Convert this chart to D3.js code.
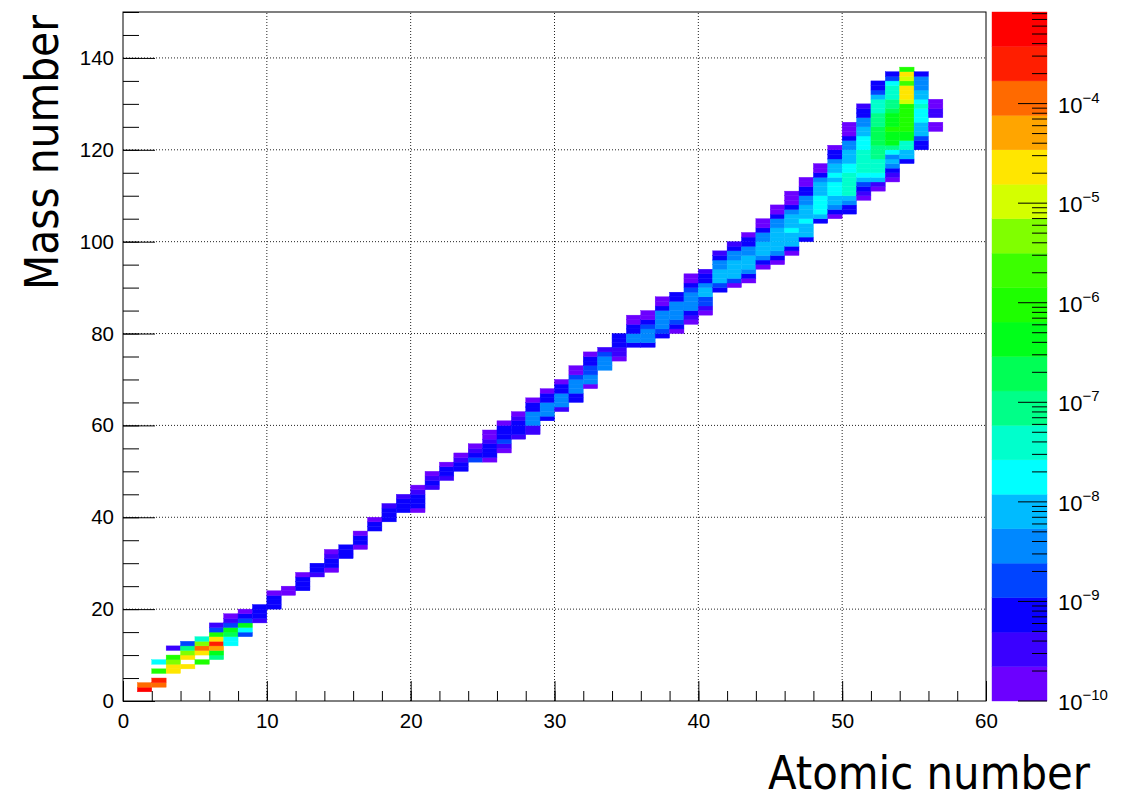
<!DOCTYPE html>
<html>
<head>
<meta charset="utf-8">
<script src="https://cdn.jsdelivr.net/npm/d3@7"></script>
<style>
body { margin: 0; background: #fff; }
</style>
</head>
<body>
<div id="chart-area"></div>
<script>
/* Atomic number of each histogram column */
var zValues = [1, 2, 3, 4, 5, 6, 7, 8, 9, 10, 11, 12, 13, 14, 15, 16, 17, 18, 19, 20,
    21, 22, 23, 24, 25, 26, 27, 28, 29, 30, 31, 32, 33, 34, 35, 36, 37, 38, 39, 40,
    41, 42, 43, 44, 45, 46, 47, 48, 49, 50, 51, 52, 53, 54, 55, 56];

/* First mass number filled in each column */
var aStart = [2, 3, 6, 7, 8, 9, 12, 14, 17, 20, 23, 24, 27, 28, 31, 33, 37, 39, 41, 41,
    46, 48, 50, 52, 52, 54, 57, 58, 61, 63, 65, 68, 72, 74, 77, 77, 79, 80, 82, 84,
    89, 90, 91, 94, 95, 97, 100, 104, 105, 106, 109, 111, 113, 117, 120, 124];

/* log10 of the bin content, going up in mass number from aStart (null = empty bin) */
var logContent = [
    [-3.3, -3.9],
    [-3.9, -3.6, null, -6.0, null, -7.7],
    [-4.6, -4.6, -5.3, -6.0, null, -9.5],
    [-4.6, null, -4.6, -5.3, -7.1, -8.8],
    [-6.0, null, -4.6, -3.9, -5.3, -7.4],
    [-7.1, -6.4, -4.3, -3.6, -4.6, -6.0, -8.8, -9.5],
    [-7.7, -7.7, -6.7, -6.4, -8.8, -9.5, -9.8],
    [-8.8, -7.7, -6.4, -8.8, -9.1, -9.8],
    [-9.5, -9.1, -9.1, -9.1],
    [-9.1, -9.1, -9.1, -9.8],
    [-9.8, -9.8],
    [-9.1, -9.1, -9.1, -9.8],
    [-9.5, -9.1, -9.1],
    [-9.8, -9.1, -9.1, -9.5, -9.8],
    [-9.1, -9.1, -9.1],
    [-9.8, -9.1, -9.1, -9.8],
    [-9.1, -9.1, -9.8],
    [-9.1, -9.1, -9.1, -9.5],
    [-9.1, -9.1, -9.1, -9.5],
    [-9.8, -9.1, -9.1, -9.1, -9.5, -9.8],
    [-9.5, -9.1, -9.5, -9.8],
    [-9.5, -9.1, -9.1, -9.8],
    [-9.1, -9.1, -9.5, -9.8],
    [-8.8, -9.1, -9.5, -9.8],
    [-9.8, -9.1, -9.1, -9.1, -9.5, -9.8, -9.8],
    [-9.8, -9.5, -8.8, -9.1, -9.1, -9.1, -9.8],
    [-9.5, -9.1, -9.1, -9.1, -9.5, -9.8],
    [-9.5, -9.5, -8.4, -8.4, -8.4, -9.1, -9.1, -9.8],
    [-9.1, -8.4, -8.4, -8.4, -9.1, -9.1, -9.8],
    [-9.5, -8.4, -8.4, -8.4, -9.1, -9.1, -9.8],
    [-9.1, -9.1, -8.4, -8.4, -8.4, -8.8, -9.8, -9.8],
    [-9.8, -8.4, -8.4, -8.8, -8.8, -9.1, -9.1, -9.8],
    [-8.4, -8.4, -8.4, -8.8, -9.5],
    [-9.8, -9.5, -9.5, -9.1, -9.1, -9.1],
    [-9.1, -8.4, -8.4, -9.1, -9.1, -9.8, -9.8],
    [-9.1, -8.4, -8.4, -8.4, -8.8, -9.1, -9.8, -9.8],
    [-9.1, -8.8, -8.4, -8.4, -8.4, -8.4, -9.1, -9.8, -9.8],
    [-9.8, -9.1, -8.8, -8.4, -8.4, -8.4, -8.4, -9.1, -9.1],
    [-9.8, -9.5, -9.1, -8.4, -8.4, -8.4, -8.4, -8.8, -9.1, -9.8, -9.8],
    [-9.8, -9.5, -8.8, -8.8, -8.1, -8.1, -8.4, -9.1, -9.1, -9.5],
    [-9.1, -8.8, -8.1, -8.1, -8.1, -8.4, -8.4, -9.1, -9.5],
    [-9.8, -8.8, -8.1, -8.1, -8.1, -8.1, -8.4, -8.4, -9.1, -9.5],
    [-9.8, -9.1, -8.4, -8.1, -8.1, -8.1, -8.4, -8.4, -9.1, -9.1, -9.8],
    [-9.8, -9.1, -8.4, -8.1, -8.1, -8.1, -8.4, -8.4, -9.1, -9.8, -9.8],
    [-9.8, -9.1, -8.4, -8.1, -8.1, -8.1, -8.1, -8.1, -8.4, -8.4, -9.1, -9.8, -9.8],
    [-9.8, -9.1, -8.1, -8.1, -8.1, -7.7, -8.1, -8.1, -8.1, -8.4, -9.1, -9.8, -9.8, -9.8],
    [-9.1, -8.1, -8.1, -8.1, -7.7, -8.1, -8.1, -8.1, -8.4, -8.4, -9.1, -9.1, -9.8, -9.8],
    [-9.1, -8.1, -7.7, -7.7, -7.7, -7.7, -8.1, -8.1, -8.1, -8.4, -9.1, -9.8, -9.8],
    [-9.8, -9.1, -8.4, -8.1, -8.1, -7.7, -7.7, -7.7, -8.1, -7.7, -8.1, -8.1, -8.4, -9.1, -9.1, -9.8],
    [-9.1, -9.1, -8.4, -8.1, -7.4, -7.4, -7.4, -7.4, -7.4, -7.7, -7.7, -8.1, -8.1, -8.1, -8.4, -8.4, -9.1, -9.8, -9.8, -9.8],
    [-9.8, -9.5, -9.1, -8.8, -8.1, -7.7, -7.4, -7.4, -7.4, -7.4, -7.4, -7.7, -7.7, -7.7, -8.1, -8.1, -8.4, -8.4, -9.1, -9.1, -9.5],
    [-9.8, -9.5, -8.1, -7.7, -7.4, -7.4, -7.4, -7.1, -7.1, -7.1, -6.7, -6.7, -6.7, -6.7, -7.1, -7.1, -7.1, -7.4, -7.4, -7.4, -8.1, -8.8, -9.1, -9.1],
    [-9.8, -9.5, -9.1, -8.4, -8.1, -8.4, -7.7, -7.1, -6.4, -6.4, -6.4, -6.0, -6.4, -6.4, -6.4, -6.7, -7.1, -7.1, -7.4, -7.4, -7.4, -7.7, -8.8, -9.1],
    [-9.1, -8.1, -8.1, -7.4, -7.4, -6.4, -6.4, -6.0, -6.0, -6.0, -6.0, -6.0, -6.0, -5.0, -4.6, -4.6, -4.6, -5.7, -5.0, -4.6, -6.0],
    [-9.1, -9.1, -8.8, -8.1, -8.1, -8.1, -7.7, -7.7, -7.7, -7.4, -7.7, -8.1, -8.1, -8.4, -8.4, -8.4, -9.1],
    [-9.8, -9.8, null, -9.5, -9.5, -9.8, -9.8]
];

/* 20 contour colours, violet -> red */
var paletteColors = ["#6c00ff", "#3a00ff", "#0a00ff", "#0044ff", "#0088ff",
    "#00bbff", "#00ffff", "#00ffcc", "#00ff88", "#00ff55",
    "#00ff1a", "#1eff00", "#3cff00", "#80ff00", "#d4ff00",
    "#ffe600", "#ffa500", "#ff6a00", "#ff1e00", "#ff0000"];

/* log10 range of the colour axis */
var zMin = -10, zMax = -3.08;

var width = 1135;
var height = 800;
var plotLeft = 123, plotRight = 986, plotTop = 12, plotBottom = 701;

var svg = d3.select("#chart-area")
    .append("svg")
    .attr("width", width)
    .attr("height", height);

var x = d3.scaleLinear().domain([0, 60]).range([plotLeft, plotRight]);
var y = d3.scaleLinear().domain([0, 150]).range([plotBottom, plotTop]);
var color = d3.scaleQuantize().domain([zMin, zMax]).range(paletteColors);

/* flatten the columns into bins */
var cells = [];
zValues.forEach(function(z, i) {
    logContent[i].forEach(function(v, j) {
        if (v !== null) cells.push({ z: z, a: aStart[i] + j, v: v });
    });
});

/* dotted grid */
var grid = svg.append("g").attr("class", "grid");
grid.selectAll(".gx")
    .data(x.ticks(6).filter(d => d > 0 && d < 60))
    .enter().append("line")
    .attr("x1", d => x(d)).attr("x2", d => x(d))
    .attr("y1", plotBottom).attr("y2", plotTop);
grid.selectAll(".gy")
    .data(y.ticks(8).filter(d => d > 0 && d < 150))
    .enter().append("line")
    .attr("x1", plotLeft).attr("x2", plotRight)
    .attr("y1", d => y(d)).attr("y2", d => y(d));
grid.selectAll("line")
    .attr("stroke", "#222")
    .attr("stroke-width", 1)
    .attr("stroke-dasharray", "1,2");

/* histogram bins */
svg.append("g").selectAll("rect")
    .data(cells)
    .enter().append("rect")
    .attr("x", d => x(d.z))
    .attr("width", d => x(d.z + 1) - x(d.z))
    .attr("y", d => y(d.a + 1))
    .attr("height", d => y(d.a) - y(d.a + 1))
    .attr("fill", d => color(d.v))
    .attr("stroke", d => color(d.v))
    .attr("stroke-width", 0.4);

/* axes, ticks drawn inwards */
var tickFont = "'Liberation Sans', Arial, sans-serif";

var xMinor = svg.append("g")
    .attr("transform", "translate(0," + plotBottom + ")")
    .call(d3.axisBottom(x).ticks(30).tickSize(-10).tickFormat(""));
var xAxis = svg.append("g")
    .attr("transform", "translate(0," + plotBottom + ")")
    .call(d3.axisBottom(x).ticks(6).tickSize(-20).tickPadding(12));

var yMinor = svg.append("g")
    .attr("transform", "translate(" + plotLeft + ",0)")
    .call(d3.axisLeft(y).ticks(30).tickSize(-16).tickFormat(""));
var yAxis = svg.append("g")
    .attr("transform", "translate(" + plotLeft + ",0)")
    .call(d3.axisLeft(y).ticks(8).tickSize(-32).tickPadding(9));

[xMinor, xAxis, yMinor, yAxis].forEach(function(g) {
    g.select(".domain").remove();
    g.attr("font-family", tickFont).attr("font-size", 20.5);
    g.selectAll("line").attr("stroke", "#000");
    g.selectAll("text").attr("fill", "#000");
});
/* no label at 150 on the mass axis */
yAxis.selectAll(".tick").filter(d => d > 140).remove();

/* frame */
svg.append("rect")
    .attr("x", plotLeft).attr("y", plotTop)
    .attr("width", plotRight - plotLeft).attr("height", plotBottom - plotTop)
    .attr("fill", "none")
    .attr("stroke", "#000")
    .attr("stroke-width", 1);

/* colour bar */
var barX = 992, barW = 55;
var zy = d3.scaleLinear().domain([zMin, zMax]).range([plotBottom, plotTop]);
svg.append("g").selectAll("rect")
    .data(paletteColors)
    .enter().append("rect")
    .attr("x", barX)
    .attr("width", barW)
    .attr("y", d => zy(color.invertExtent(d)[1]))
    .attr("height", d => zy(color.invertExtent(d)[0]) - zy(color.invertExtent(d)[1]))
    .attr("fill", d => d)
    .attr("stroke", d => d)
    .attr("stroke-width", 0.4);

var zLog = d3.scaleLog().domain([1e-10, Math.pow(10, zMax)]).range([plotBottom, plotTop]);
var isMajor = t => Math.abs(Math.log10(t) - Math.round(Math.log10(t))) < 1e-6;
var zTicks = zLog.ticks();

svg.append("g").selectAll("line")
    .data(zTicks)
    .enter().append("line")
    .attr("x1", barX + barW)
    .attr("x2", d => barX + barW - (isMajor(d) ? 29 : 15))
    .attr("y1", d => zLog(d)).attr("y2", d => zLog(d))
    .attr("stroke", "#000")
    .attr("stroke-width", 1);

var zLabels = svg.append("g").selectAll("text")
    .data(zTicks.filter(isMajor))
    .enter().append("text")
    .attr("x", 1058)
    .attr("y", d => zLog(d) + 9)
    .attr("font-family", tickFont)
    .attr("font-size", 22)
    .attr("fill", "#000");
zLabels.append("tspan").text("10");
zLabels.append("tspan")
    .attr("dy", -10)
    .attr("font-size", 15)
    .text(d => "\u2212" + (-Math.round(Math.log10(d))));

/* axis titles */
var titleFont = "'DejaVu Sans Condensed', 'DejaVu Sans', sans-serif";
svg.append("text")
    .attr("x", 768).attr("y", 789)
    .attr("font-family", titleFont)
    .attr("font-stretch", "condensed")
    .attr("font-size", 46)
    .attr("textLength", 322)
    .attr("lengthAdjust", "spacingAndGlyphs")
    .text("Atomic number");

svg.append("text")
    .attr("transform", "translate(58,290) rotate(-90)")
    .attr("font-family", titleFont)
    .attr("font-stretch", "condensed")
    .attr("font-size", 46)
    .attr("textLength", 275)
    .attr("lengthAdjust", "spacingAndGlyphs")
    .text("Mass number");
</script>
</body>
</html>
